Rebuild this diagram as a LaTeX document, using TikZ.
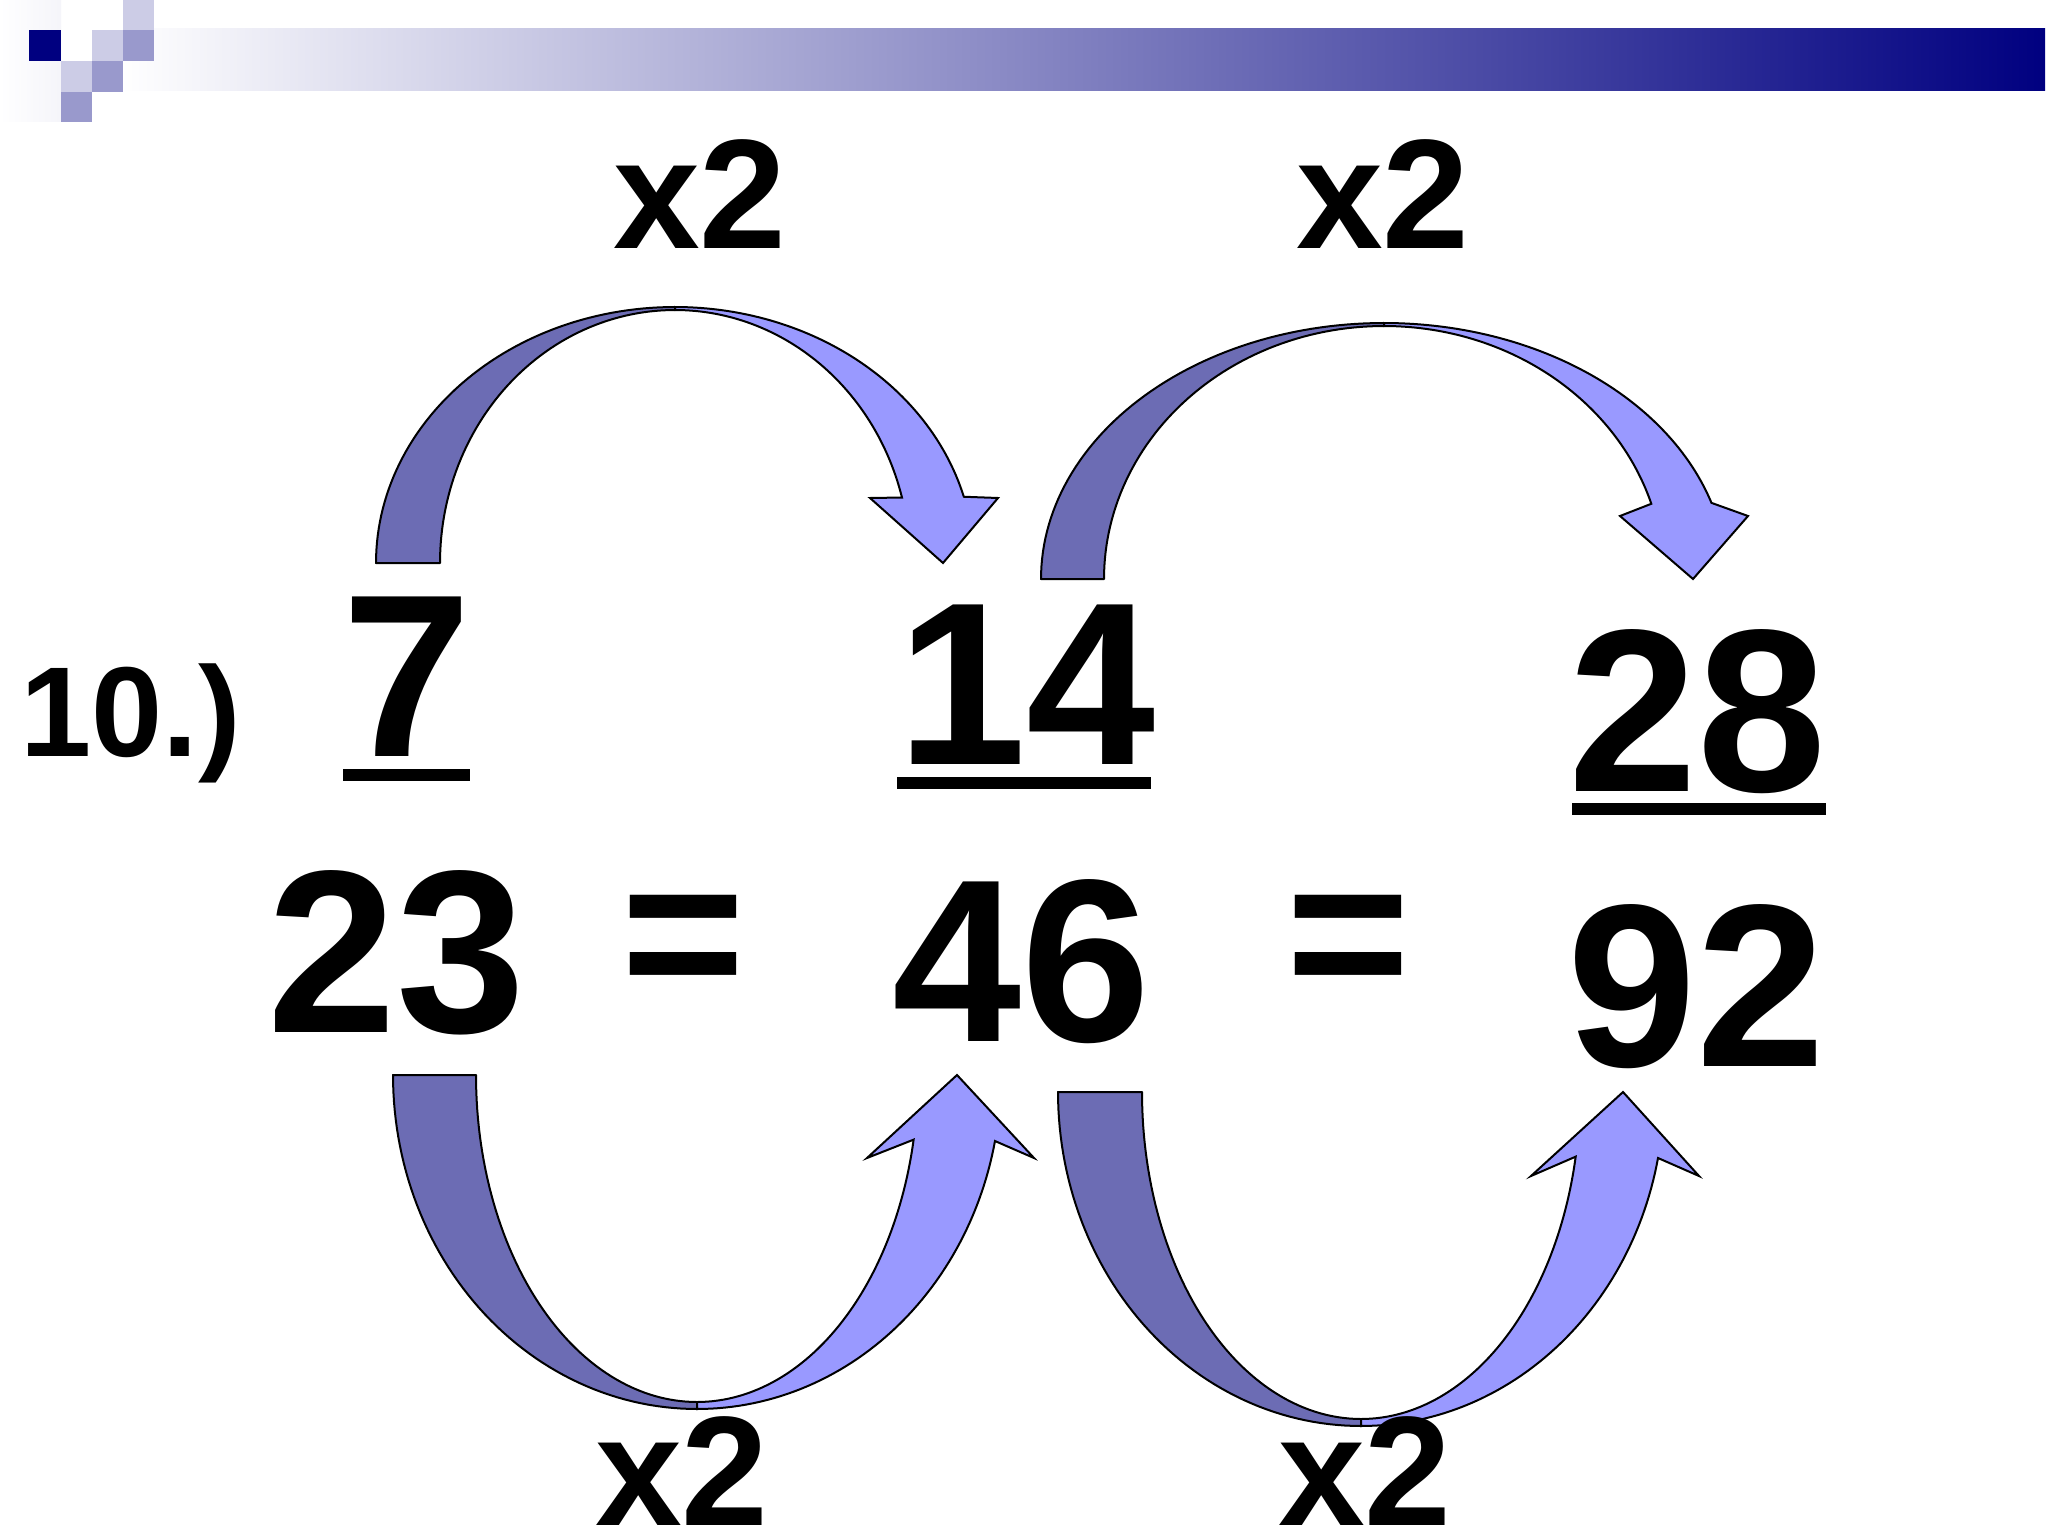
\documentclass[tikz,border=0pt]{standalone}
\usepackage{fontspec}
\setmainfont{Liberation Sans}
\definecolor{navybar}{RGB}{0,0,128}
\definecolor{lightsq}{RGB}{204,204,230}
\definecolor{medsq}{RGB}{153,153,204}
\definecolor{darkrib}{RGB}{108,108,180}
\definecolor{lightrib}{RGB}{153,153,255}
\tikzset{
  ribdark/.style={fill=darkrib, draw=black, line width=2pt, line join=round},
  riblight/.style={fill=lightrib, draw=black, line width=2pt, line join=miter},
  bignum/.style={anchor=base, inner sep=0pt, text depth=0pt, font=\fontsize{232}{240}\selectfont\bfseries},
  eqsign/.style={anchor=base, inner sep=0pt, text depth=0pt, font=\fontsize{212}{220}\selectfont\bfseries},
  timestwo/.style={anchor=base, inner sep=0pt, text depth=0pt, font=\fontsize{156}{160}\selectfont\bfseries},
  numlabel/.style={anchor=base west, inner sep=0pt, font=\fontsize{128}{132}\selectfont\bfseries},
  fracbar/.style={fill=black},
}
\begin{document}
\begin{tikzpicture}[x=1pt,y=-1pt]
\useasboundingbox (0,0) rectangle (2048,1536);
\fill[white] (0,0) rectangle (2048,1536);
% header decoration
\shade[left color=white, right color=white!80!lightsq] (0,0) rectangle (61,122);
\shade[left color=white, right color=navybar] (120,29) rectangle (2045,91);
\fill[navybar] (29,30) rectangle (61,61);
\fill[lightsq] (123,0) rectangle (154,30);
\fill[lightsq] (92,30) rectangle (123,61);
\fill[medsq] (123,30) rectangle (154,61);
\fill[lightsq] (61,61) rectangle (92,92);
\fill[medsq] (92,61) rectangle (123,92);
\fill[medsq] (61,92) rectangle (92,122);
% arrow A (top left)
\filldraw[ribdark] plot[domain=180:90,samples=60,variable=\t] ({675+299*cos(\t)},{563-256*sin(\t)})
  -- plot[domain=90:180,samples=60,variable=\t] ({675+235*cos(\t)},{563-253*sin(\t)}) -- cycle;
\filldraw[riblight] plot[domain=90:15,samples=60,variable=\t] ({675+299*cos(\t)},{563-256*sin(\t)})
  -- (998,498) -- (943,563) -- (870,498)
  -- plot[domain=15:90,samples=60,variable=\t] ({675+235*cos(\t)},{563-253*sin(\t)}) -- cycle;
% arrow B (top right)
\filldraw[ribdark] plot[domain=180:90,samples=60,variable=\t] ({1384+343*cos(\t)},{579-256*sin(\t)})
  -- plot[domain=90:180,samples=60,variable=\t] ({1384+280*cos(\t)},{579-253*sin(\t)}) -- cycle;
\filldraw[riblight] plot[domain=90:17.3,samples=60,variable=\t] ({1384+343*cos(\t)},{579-256*sin(\t)})
  -- (1748,516) -- (1693,579) -- (1620,516)
  -- plot[domain=17.3:90,samples=60,variable=\t] ({1384+280*cos(\t)},{579-253*sin(\t)}) -- cycle;
% arrow C (bottom left)
\filldraw[ribdark] plot[domain=180:90,samples=60,variable=\t] ({697+304*cos(\t)},{1075+334*sin(\t)})
  -- plot[domain=90:180,samples=60,variable=\t] ({697+221*cos(\t)},{1075+327*sin(\t)}) -- cycle;
\filldraw[riblight] plot[domain=90:11.4,samples=60,variable=\t] ({697+304*cos(\t)},{1075+334*sin(\t)})
  -- (1034,1158) -- (957,1075) -- (867,1158)
  -- plot[domain=11.4:90,samples=60,variable=\t] ({697+221*cos(\t)},{1075+327*sin(\t)}) -- cycle;
% arrow D (bottom right)
\filldraw[ribdark] plot[domain=180:90,samples=60,variable=\t] ({1361+303*cos(\t)},{1092+334*sin(\t)})
  -- plot[domain=90:180,samples=60,variable=\t] ({1361+219*cos(\t)},{1092+327*sin(\t)}) -- cycle;
\filldraw[riblight] plot[domain=90:11.4,samples=60,variable=\t] ({1361+303*cos(\t)},{1092+334*sin(\t)})
  -- (1699,1176) -- (1623,1092) -- (1531,1176)
  -- plot[domain=11.4:90,samples=60,variable=\t] ({1361+219*cos(\t)},{1092+327*sin(\t)}) -- cycle;
% labels x2
\node[timestwo] (tA) at (700,248) {x2};
\node[timestwo] (tB) at (1383,248) {x2};
\node[timestwo] (tC) at (682,1525) {x2};
\node[timestwo] (tD) at (1365,1525) {x2};
% problem number
\node[numlabel] (num) at (20,756) {10.)};
% numerators
\node[bignum] (n7) at (407,756) {7};
\node[bignum] (n14) at (1027,764) {14};
\node[bignum] (n28) at (1698,791) {28};
\fill[fracbar] (343,769) rectangle (470,781);
\fill[fracbar] (897,777) rectangle (1151,789);
\fill[fracbar] (1572,803) rectangle (1826,815);
% denominators
\node[bignum] (d23) at (397,1032) {23};
\node[bignum] (d46) at (1022,1041) {46};
\node[bignum] (d92) at (1697,1066) {92};
\node[eqsign] (eq1) at (683,1005) {=};
\node[eqsign] (eq2) at (1348,1005) {=};
\end{tikzpicture}
\end{document}
